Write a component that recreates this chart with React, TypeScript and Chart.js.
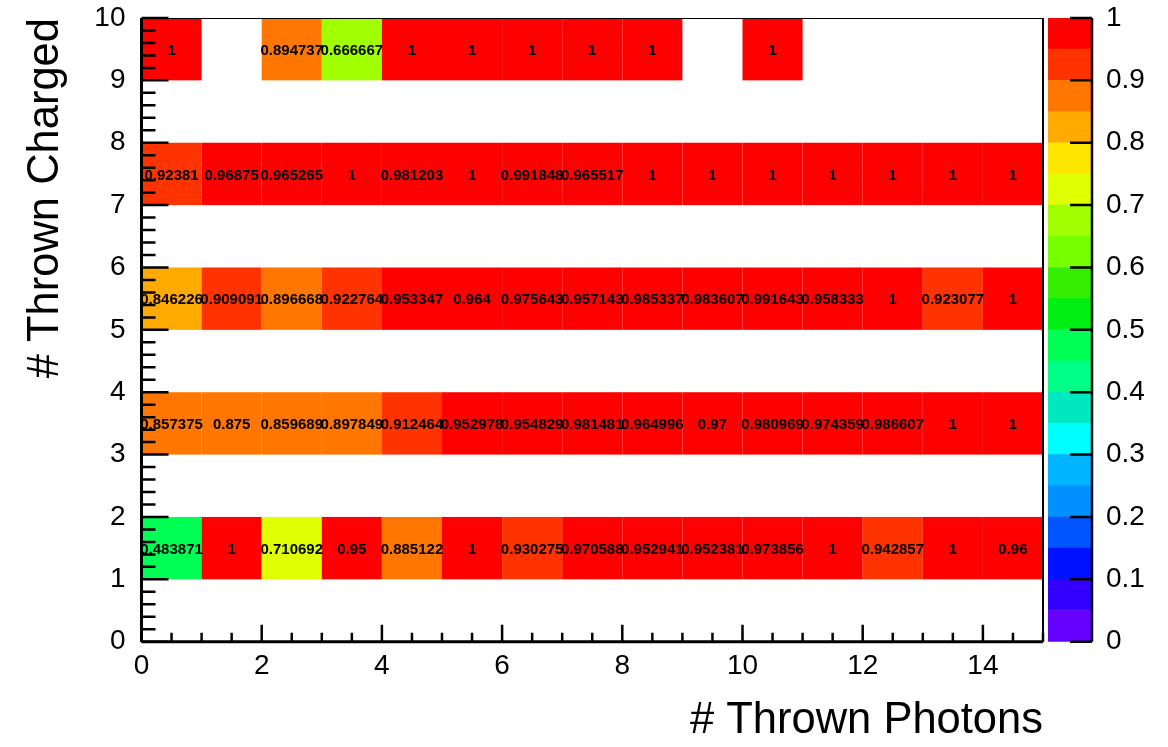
import { useEffect, useRef } from "react";
import { Chart, registerables } from "chart.js";

Chart.register(...registerables);

// ---------- data ----------
const photonLowEdges = [0, 1, 2, 3, 4, 5, 6, 7, 8, 9, 10, 11, 12, 13, 14];
const chargedLowEdges = [1, 3, 5, 7, 9];

const charged1 = [0.483871, 1, 0.710692, 0.95, 0.885122, 1, 0.930275, 0.970588, 0.952941, 0.952381, 0.973856, 1, 0.942857, 1, 0.96];
const charged3 = [0.857375, 0.875, 0.859689, 0.897849, 0.912464, 0.952978, 0.954829, 0.981481, 0.964996, 0.97, 0.980969, 0.974359, 0.986607, 1, 1];
const charged5 = [0.846226, 0.909091, 0.896668, 0.922764, 0.953347, 0.964, 0.975643, 0.957143, 0.985337, 0.983607, 0.991643, 0.958333, 1, 0.923077, 1];
const charged7 = [0.92381, 0.96875, 0.965265, 1, 0.981203, 1, 0.991848, 0.965517, 1, 1, 1, 1, 1, 1, 1];
const charged9 = [1, null, 0.894737, 0.666667, 1, 1, 1, 1, 1, null, 1, null, null, null, null];

const rows: (number | null)[][] = [charged1, charged3, charged5, charged7, charged9];

const xTickValues = [0, 2, 4, 6, 8, 10, 12, 14];
const xTickLabels = ["0", "2", "4", "6", "8", "10", "12", "14"];
const yTickValues = [0, 1, 2, 3, 4, 5, 6, 7, 8, 9, 10];
const yTickLabels = ["0", "1", "2", "3", "4", "5", "6", "7", "8", "9", "10"];
const zTickValues = [0, 0.1, 0.2, 0.3, 0.4, 0.5, 0.6, 0.7, 0.8, 0.9, 1];
const zTickLabels = ["0", "0.1", "0.2", "0.3", "0.4", "0.5", "0.6", "0.7", "0.8", "0.9", "1"];

const paletteColors = [
  "#6600ff", "#3300ff", "#0011ff", "#0055ff", "#0090ff",
  "#00b4ff", "#00ffff", "#00e8c0", "#00ff88", "#00ff55",
  "#00ee11", "#33ee00", "#77ff00", "#a0ff00", "#e0ff00",
  "#ffe600", "#ffaa00", "#ff7700", "#ff3300", "#ff0000",
];
const paletteStep = 0.05;

const xTitle = "# Thrown Photons";
const yTitle = "# Thrown Charged";

// ---------- style ----------
const FONT = "'Liberation Sans', Arial, Helvetica, sans-serif";
const W = 1168;
const H = 747;
const PLOT_TOP = 18;
const PLOT_BOTTOM = 641.7;
const PLOT_LEFT = 141.5;
const PLOT_RIGHT = 1043;
const BAR_CANVAS_LEFT = 1040;
const BAR_LEFT_PAD = 8;
const BAR_WIDTH = 44;
const LABEL_SIZE = 28;
const TITLE_SIZE = 43.5;

function colorFor(v: number) {
  const idx = Math.min(paletteColors.length - 1, Math.max(0, Math.floor(v / paletteStep + 1e-9)));
  return paletteColors[idx];
}

function fmt(v: number) {
  return String(parseFloat(v.toPrecision(6)));
}

const heatPlugin = {
  id: "heatCells",
  beforeDatasetsDraw(chart: any) {
    const { ctx, scales } = chart;
    const xs = scales.x;
    const ys = scales.y;
    ctx.save();
    chart.data.datasets.forEach((ds: any) => {
      ds.data.forEach((p: any) => {
        const x0 = xs.getPixelForValue(p.x - 0.5);
        const x1 = xs.getPixelForValue(p.x + 0.5);
        const y0 = ys.getPixelForValue(p.y + 0.5);
        const y1 = ys.getPixelForValue(p.y - 0.5);
        ctx.fillStyle = colorFor(p.v);
        ctx.fillRect(x0, y0, x1 - x0, y1 - y0);
      });
    });
    ctx.fillStyle = "#000";
    ctx.font = `bold 15px ${FONT}`;
    ctx.textAlign = "center";
    ctx.textBaseline = "middle";
    chart.data.datasets.forEach((ds: any) => {
      ds.data.forEach((p: any) => {
        ctx.fillText(fmt(p.v), xs.getPixelForValue(p.x), ys.getPixelForValue(p.y) + 1.5);
      });
    });
    ctx.restore();
  },
  afterDraw(chart: any) {
    const { ctx, chartArea: a, scales } = chart;
    const xs = scales.x;
    const ys = scales.y;
    ctx.save();
    ctx.strokeStyle = "#000";
    ctx.lineWidth = 1;
    ctx.beginPath();
    ctx.moveTo(a.left, a.top + 0.5);
    ctx.lineTo(a.right, a.top + 0.5);
    ctx.stroke();
    ctx.lineWidth = 2;
    ctx.beginPath();
    ctx.moveTo(a.right, a.top);
    ctx.lineTo(a.right, a.bottom);
    ctx.stroke();
    ctx.lineWidth = 3;
    ctx.beginPath();
    ctx.moveTo(a.left, a.top);
    ctx.lineTo(a.left, a.bottom);
    ctx.moveTo(a.left, a.bottom);
    ctx.lineTo(a.right, a.bottom);
    ctx.stroke();
    ctx.lineWidth = 2.5;
    ctx.beginPath();
    for (let k = 0; k <= 30; k++) {
      const px = xs.getPixelForValue(k * 0.5);
      const len = k % 4 === 0 ? 17 : 9;
      ctx.moveTo(px, a.bottom);
      ctx.lineTo(px, a.bottom - len);
    }
    for (let k = 0; k <= 50; k++) {
      const py = ys.getPixelForValue(k * 0.2);
      const len = k % 5 === 0 ? 27 : 14;
      ctx.moveTo(a.left, py);
      ctx.lineTo(a.left + len, py);
    }
    ctx.stroke();
    ctx.restore();
  },
};

const colorAxisPlugin = {
  id: "colorAxis",
  afterDraw(chart: any) {
    const { ctx, chartArea: a, scales } = chart;
    const ys = scales.y;
    ctx.save();
    ctx.strokeStyle = "#000";
    ctx.lineWidth = 2.5;
    ctx.beginPath();
    ctx.moveTo(a.right, a.top);
    ctx.lineTo(a.right, a.bottom);
    zTickValues.forEach((v) => {
      const py = ys.getPixelForValue(v);
      ctx.moveTo(a.right, py);
      ctx.lineTo(a.right - 22, py);
    });
    ctx.stroke();
    ctx.restore();
  },
};

export default function App() {
  const mainRef = useRef<HTMLCanvasElement>(null);
  const barRef = useRef<HTMLCanvasElement>(null);

  useEffect(() => {
    const datasets = rows.map((vals, r) => ({
      label: `charged ${chargedLowEdges[r]}`,
      data: vals
        .map((v, i) => (v == null ? null : { x: photonLowEdges[i] + 0.5, y: chargedLowEdges[r] + 0.5, v }))
        .filter((p) => p !== null),
      pointRadius: 0,
      showLine: false,
    }));

    const main = new Chart(mainRef.current!, {
      type: "scatter",
      data: { datasets: datasets as any },
      options: {
        responsive: false,
        animation: false,
        layout: { padding: { left: 0, top: PLOT_TOP, right: W - PLOT_RIGHT, bottom: 0 } },
        plugins: { legend: { display: false }, tooltip: { enabled: false } },
        scales: {
          x: {
            type: "linear",
            min: 0,
            max: 15,
            afterBuildTicks: (s: any) => {
              s.ticks = xTickValues.map((v) => ({ value: v }));
            },
            afterFit: (s: any) => {
              s.height = H - PLOT_BOTTOM;
              s.paddingLeft = 0;
              s.paddingRight = 0;
            },
            grid: { display: false },
            border: { display: false },
            ticks: {
              autoSkip: false,
              maxRotation: 0,
              padding: 0,
              color: "#000",
              font: { family: FONT, size: LABEL_SIZE },
              callback: (_v: any, i: number) => xTickLabels[i],
            },
            title: {
              display: true,
              text: xTitle,
              align: "end",
              color: "#000",
              font: { family: FONT, size: TITLE_SIZE },
              padding: { top: 0, bottom: 0 },
            },
          },
          y: {
            type: "linear",
            min: 0,
            max: 10,
            afterBuildTicks: (s: any) => {
              s.ticks = yTickValues.map((v) => ({ value: v }));
            },
            afterFit: (s: any) => {
              s.width = PLOT_LEFT;
              s.paddingTop = 0;
              s.paddingBottom = 0;
            },
            grid: { display: false },
            border: { display: false },
            ticks: {
              autoSkip: false,
              padding: 8,
              color: "#000",
              font: { family: FONT, size: LABEL_SIZE },
              callback: (_v: any, i: number) => yTickLabels[i],
            },
            title: {
              display: true,
              text: yTitle,
              align: "end",
              color: "#000",
              font: { family: FONT, size: TITLE_SIZE },
              padding: { top: 20, bottom: 0 },
            },
          },
        },
      },
      plugins: [heatPlugin],
    } as any);

    const bar = new Chart(barRef.current!, {
      type: "bar",
      data: {
        labels: [""],
        datasets: paletteColors.map((c, i) => ({
          label: `band ${i}`,
          data: [paletteStep],
          backgroundColor: c,
          borderWidth: 0,
          barPercentage: 1,
          categoryPercentage: 1,
        })),
      },
      options: {
        responsive: false,
        animation: false,
        layout: { padding: { left: BAR_LEFT_PAD, top: PLOT_TOP, right: 0, bottom: H - PLOT_BOTTOM } },
        plugins: { legend: { display: false }, tooltip: { enabled: false } },
        scales: {
          x: { stacked: true, display: false },
          y: {
            stacked: true,
            position: "right",
            min: 0,
            max: 1,
            afterBuildTicks: (s: any) => {
              s.ticks = zTickValues.map((v) => ({ value: v }));
            },
            afterFit: (s: any) => {
              s.width = 128 - BAR_LEFT_PAD - BAR_WIDTH;
              s.paddingTop = 0;
              s.paddingBottom = 0;
            },
            grid: { display: false },
            border: { display: false },
            ticks: {
              autoSkip: false,
              padding: 6,
              color: "#000",
              font: { family: FONT, size: LABEL_SIZE },
              callback: (_v: any, i: number) => zTickLabels[i],
            },
          },
        },
      },
      plugins: [colorAxisPlugin],
    } as any);

    return () => {
      main.destroy();
      bar.destroy();
    };
  }, []);

  return (
    <div style={{ position: "fixed", left: 0, top: 0, width: W, height: H, background: "#fff" }}>
      <canvas ref={mainRef} width={W} height={H} style={{ position: "absolute", left: 0, top: 0 }} />
      <canvas
        ref={barRef}
        width={128}
        height={H}
        style={{ position: "absolute", left: BAR_CANVAS_LEFT, top: 0 }}
      />
    </div>
  );
}
